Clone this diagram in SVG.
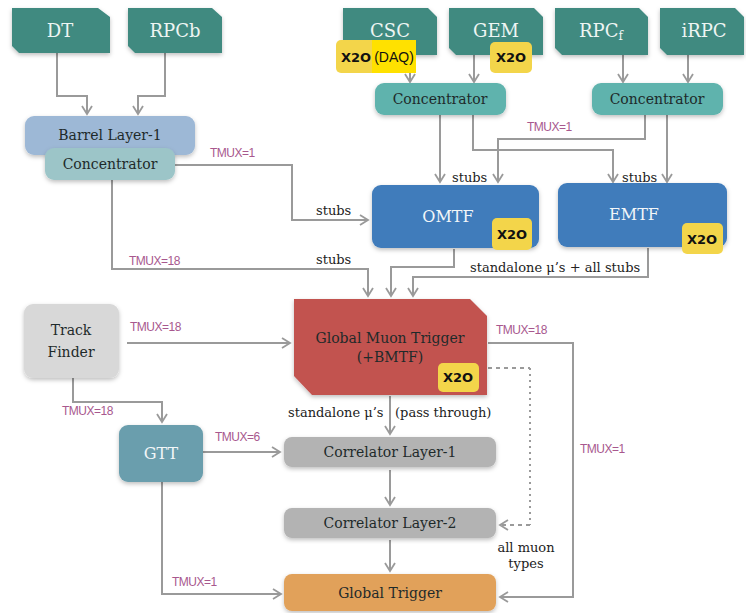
<svg xmlns="http://www.w3.org/2000/svg" width="746" height="613" viewBox="0 0 746 613">
<style>
.det{fill:#3f8a80}
.dett{fill:#eef5f3;font-family:"DejaVu Serif",serif;font-size:18px;text-anchor:middle}
.conc{fill:#5fb3ad}
.lbl{font-family:"DejaVu Serif",serif;font-size:14px;text-anchor:middle;fill:#1e2a2a}
.wl{font-family:"DejaVu Serif",serif;font-size:16px;text-anchor:middle;fill:#f2f6f8}
.tm{font-family:"Liberation Sans",Arial,sans-serif;font-size:12px;fill:#a8588e;letter-spacing:-0.5px}
.sm{font-family:"DejaVu Serif",serif;font-size:13px;fill:#222}
.x2o{fill:#f3d54a}
.x2ot{font-family:"DejaVu Sans",sans-serif;font-weight:bold;font-size:13px;fill:#111;text-anchor:middle}
.c{fill:none;stroke:#9a9a9a;stroke-width:2}
.d{fill:none;stroke:#9a9a9a;stroke-width:2;stroke-dasharray:4 4}
.dt{fill:none;stroke:#9a9a9a;stroke-width:2;stroke-dasharray:2 4}
</style>
<defs>
<marker id="ah" viewBox="0 0 12 12" refX="10" refY="6" markerWidth="12" markerHeight="12" markerUnits="userSpaceOnUse" orient="auto">
<path d="M2,1 L10,6 L2,11" fill="none" stroke="#9a9a9a" stroke-width="1.8"/>
</marker>
<filter id="sh" x="-10%" y="-10%" width="120%" height="130%">
<feDropShadow dx="0" dy="2" stdDeviation="2" flood-color="#000" flood-opacity="0.25"/>
</filter>
</defs>

<g id="connectors">
<polyline class="c" points="57,53 57,96 87,96 87,114" marker-end="url(#ah)"/>
<polyline class="c" points="165,53 165,96 138,96 138,114" marker-end="url(#ah)"/>
<line class="c" x1="410" y1="73" x2="410" y2="82" marker-end="url(#ah)"/>
<line class="c" x1="474" y1="55" x2="474" y2="82" marker-end="url(#ah)"/>
<line class="c" x1="623" y1="55" x2="623" y2="82" marker-end="url(#ah)"/>
<line class="c" x1="688" y1="55" x2="688" y2="82" marker-end="url(#ah)"/>
<line class="c" x1="440" y1="115" x2="440" y2="182" marker-end="url(#ah)"/>
<polyline class="c" points="473,115 473,150 613,150 613,182" marker-end="url(#ah)"/>
<polyline class="c" points="645,115 645,139 498,139 498,182" marker-end="url(#ah)"/>
<line class="c" x1="667" y1="115" x2="667" y2="182" marker-end="url(#ah)"/>
<polyline class="c" points="175,165 292,165 292,220 368,220" marker-end="url(#ah)"/>
<polyline class="c" points="112,180 112,269 368,269 368,296" marker-end="url(#ah)"/>
<polyline class="c" points="454,249 454,267 391,267 391,296" marker-end="url(#ah)"/>
<polyline class="c" points="648,248 648,277 413,277 413,296" marker-end="url(#ah)"/>
<line class="c" x1="127" y1="343" x2="290" y2="343" marker-end="url(#ah)"/>
<polyline class="c" points="73,378 73,402 162,402 162,422" marker-end="url(#ah)"/>
<line class="c" x1="203" y1="452" x2="280" y2="452" marker-end="url(#ah)"/>
<polyline class="c" points="162,482 162,594 281,594" marker-end="url(#ah)"/>
<line class="c" x1="390" y1="396" x2="390" y2="434" marker-end="url(#ah)"/>
<line class="c" x1="390" y1="470" x2="390" y2="505" marker-end="url(#ah)"/>
<line class="c" x1="390" y1="540" x2="390" y2="571" marker-end="url(#ah)"/>
<polyline class="c" points="488,343 573,343 573,597 500,597" marker-end="url(#ah)"/>
<polyline class="d" points="488,368 530,368"/>
<polyline class="dt" points="530,368 530,525"/>
<polyline class="d" points="530,525 500,525" marker-end="url(#ah)"/>
</g>

<g id="labels">
<text class="tm" x="210" y="157">TMUX=1</text>
<text class="tm" x="129" y="265">TMUX=18</text>
<text class="tm" x="527" y="131">TMUX=1</text>
<text class="tm" x="130" y="331">TMUX=18</text>
<text class="tm" x="62" y="415">TMUX=18</text>
<text class="tm" x="215" y="441">TMUX=6</text>
<text class="tm" x="172" y="586">TMUX=1</text>
<text class="tm" x="496" y="334">TMUX=18</text>
<text class="tm" x="580" y="453">TMUX=1</text>
<text class="sm" x="316" y="215">stubs</text>
<text class="sm" x="316" y="264">stubs</text>
<text class="sm" x="452" y="182">stubs</text>
<text class="sm" x="622" y="182">stubs</text>
<text class="sm" x="470" y="272">standalone  μ’s + all stubs</text>
<text class="sm" x="288" y="417">standalone  μ’s</text>
<text class="sm" x="395" y="417">(pass through)</text>
<text class="sm" x="526" y="552" text-anchor="middle">all muon</text>
<text class="sm" x="526" y="568" text-anchor="middle">types</text>
</g>

<g id="DT"><polygon class="det" points="12,8 98,8 110,17 110,53 19,53 12,46" filter="url(#sh)"/><text class="dett" x="60" y="37">DT</text></g>
<g id="RPCb"><polygon class="det" points="128,8 212,8 222,17 222,53 135,53 128,46" filter="url(#sh)"/><text class="dett" x="175" y="37">RPCb</text></g>
<g id="CSC"><polygon class="det" points="343,8 428,8 437,17 437,55 350,55 343,48" filter="url(#sh)"/><text class="dett" x="390" y="37">CSC</text></g>
<g id="GEM"><polygon class="det" points="449,8 534,8 543,17 543,55 456,55 449,48" filter="url(#sh)"/><text class="dett" x="496" y="37">GEM</text></g>
<g id="RPCf"><polygon class="det" points="555,8 639,8 648,17 648,55 562,55 555,48" filter="url(#sh)"/><text class="dett" x="601" y="37">RPC<tspan font-size="12" dy="3">f</tspan></text></g>
<g id="iRPC"><polygon class="det" points="660,8 735,8 744,17 744,55 667,55 660,48" filter="url(#sh)"/><text class="dett" x="704" y="37">iRPC</text></g>

<g id="x2o-daq"><rect class="x2o" x="336" y="40" width="46" height="33" rx="5"/><rect x="372" y="40" width="44" height="33" fill="#ffe100"/><text class="x2ot" x="356" y="62">X2O</text><text x="394" y="62" font-family="'Liberation Sans',Arial,sans-serif" font-size="14" fill="#111" text-anchor="middle">(DAQ)</text></g>
<g id="x2o-gem"><rect class="x2o" x="490" y="42" width="42" height="31" rx="5"/><text class="x2ot" x="511" y="62">X2O</text></g>

<g id="conc-csc"><rect class="conc" x="375" y="83" width="131" height="32" rx="9" filter="url(#sh)"/><text class="lbl" x="440" y="104">Concentrator</text></g>
<g id="conc-rpc"><rect class="conc" x="592" y="83" width="131" height="32" rx="9" filter="url(#sh)"/><text class="lbl" x="657" y="104">Concentrator</text></g>

<g id="barrel"><rect x="25" y="116" width="170" height="39" rx="9" fill="#9db8d6" filter="url(#sh)"/><text class="lbl" x="110" y="140" font-size="15">Barrel Layer-1</text></g>
<g id="conc-barrel"><rect x="45" y="148" width="130" height="32" rx="9" fill="#9cc5c8" filter="url(#sh)"/><text class="lbl" x="110" y="169">Concentrator</text></g>

<g id="OMTF"><rect x="372" y="185" width="167" height="63" rx="9" fill="#3f7bbb" filter="url(#sh)"/><text class="wl" x="448" y="222">OMTF</text><rect class="x2o" x="492" y="218" width="40" height="32" rx="5"/><text class="x2ot" x="512" y="239">X2O</text></g>
<g id="EMTF"><rect x="558" y="183" width="169" height="64" rx="9" fill="#3f7bbb" filter="url(#sh)"/><text class="wl" x="634" y="220">EMTF</text><rect class="x2o" x="682" y="223" width="41" height="31" rx="5"/><text class="x2ot" x="702" y="244">X2O</text></g>

<g id="GMT"><polygon points="294,299 470,299 487,316 487,395 312,395 294,376" fill="#c2524f" filter="url(#sh)"/><text class="lbl" x="390" y="343" font-size="15">Global Muon Trigger</text><text class="lbl" x="390" y="362" font-size="15">(+BMTF)</text><rect class="x2o" x="438" y="363" width="41" height="29" rx="5"/><text class="x2ot" x="458" y="382">X2O</text></g>

<g id="TrackFinder"><rect x="24" y="304" width="95" height="74" rx="9" fill="#d8d8d8" filter="url(#sh)"/><text class="lbl" x="71" y="335" font-size="17">Track</text><text class="lbl" x="71" y="357" font-size="17">Finder</text></g>
<g id="GTT"><rect x="119" y="425" width="84" height="57" rx="9" fill="#6b9ead" filter="url(#sh)"/><text class="wl" x="161" y="459">GTT</text></g>

<g id="CL1"><rect x="284" y="437" width="212" height="30" rx="8" fill="#b3b3b3" filter="url(#sh)"/><text class="lbl" x="390" y="457">Correlator Layer-1</text></g>
<g id="CL2"><rect x="284" y="508" width="212" height="30" rx="8" fill="#b3b3b3" filter="url(#sh)"/><text class="lbl" x="390" y="528">Correlator Layer-2</text></g>
<g id="GT"><rect x="284" y="574" width="212" height="37" rx="8" fill="#e1a15a" filter="url(#sh)"/><text class="lbl" x="390" y="598">Global Trigger</text></g>
</svg>
